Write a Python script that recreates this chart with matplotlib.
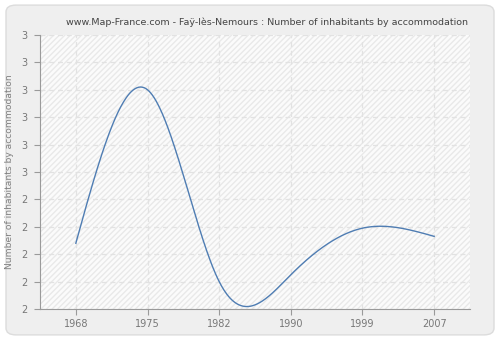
import numpy as np
import matplotlib
matplotlib.use("Agg")
import matplotlib.pyplot as plt
from matplotlib.patches import FancyBboxPatch, Rectangle

# census years and values
years = ["1968", "1975", "1982", "1990", "1999", "2007"]
values = [2.24, 2.80, 2.10, 2.125, 2.295, 2.265]
y_ticks = [2.0, 2.1, 2.2, 2.3, 2.4, 2.5, 2.6, 2.7, 2.8, 2.9, 3.0]
y_tick_labels = ["2", "2", "2", "2", "2", "3", "3", "3", "3", "3", "3"]

TITLE = "www.Map-France.com - Faÿ-lès-Nemours : Number of inhabitants by accommodation"


def natural_spline(x, y, n=400):
    # plain natural cubic spline, only used to draw the smooth line
    x = np.asarray(x, float)
    y = np.asarray(y, float)
    k = len(x)
    h = np.diff(x)
    A = np.zeros((k, k))
    b = np.zeros(k)
    A[0, 0] = A[-1, -1] = 1
    for i in range(1, k - 1):
        A[i, i - 1] = h[i - 1]
        A[i, i] = 2 * (h[i - 1] + h[i])
        A[i, i + 1] = h[i]
        b[i] = 6 * ((y[i + 1] - y[i]) / h[i] - (y[i] - y[i - 1]) / h[i - 1])
    m = np.linalg.solve(A, b)
    xs = np.linspace(x[0], x[-1], n)
    idx = np.clip(np.searchsorted(x, xs) - 1, 0, k - 2)
    t = xs - x[idx]
    hi = h[idx]
    a = (m[idx + 1] - m[idx]) / (6 * hi)
    bb = m[idx] / 2
    c = (y[idx + 1] - y[idx]) / hi - hi * (2 * m[idx] + m[idx + 1]) / 6
    ys = y[idx] + c * t + bb * t ** 2 + a * t ** 3
    return xs, ys


fig = plt.figure(figsize=(5, 3.4), dpi=100)
fig.patch.set_facecolor("white")
fig.patches.append(FancyBboxPatch((0.012, 0.015), 0.976, 0.97,
                                  boxstyle="round,pad=0,rounding_size=0.02",
                                  transform=fig.transFigure, facecolor="#efefef",
                                  edgecolor="#dcdcdc", linewidth=1, zorder=-10))

ax = fig.add_axes([0.08, 0.0912, 0.86, 0.806])
ax.set_facecolor("#fbfbfb")
ax.add_patch(Rectangle((0, 0), 1, 1, transform=ax.transAxes, facecolor="none",
                       edgecolor="#e9e9e9", hatch="//////", linewidth=0, zorder=0))

pos = np.arange(len(years))
xs, ys = natural_spline(pos, values)
ax.plot(xs, ys, color="#4f7db3", linewidth=1.0, zorder=3)

ax.set_xlim(-0.5, len(years) - 0.5)
ax.set_ylim(2.0, 3.0)
ax.set_xticks(pos)
ax.set_xticklabels(years)
ax.set_yticks(y_ticks)
ax.set_yticklabels(y_tick_labels)

ax.grid(True, color="#e2e2e2", linestyle=(0, (4, 3)), linewidth=0.9, zorder=1)
ax.set_axisbelow(True)
for s in ["top", "right"]:
    ax.spines[s].set_visible(False)
for s in ["left", "bottom"]:
    ax.spines[s].set_color("#9a9a9a")
ax.tick_params(colors="#9a9a9a", labelcolor="#777777", labelsize=7, length=4, width=0.8)
ax.tick_params(axis="y", pad=5)

ax.set_ylabel("Number of inhabitants by accommodation", fontsize=6.6, color="#808080", labelpad=5)
fig.text(0.533, 0.935, TITLE, ha="center", va="center", fontsize=6.8, color="#444444")

fig.savefig("out.png", dpi=100, facecolor=fig.get_facecolor())
